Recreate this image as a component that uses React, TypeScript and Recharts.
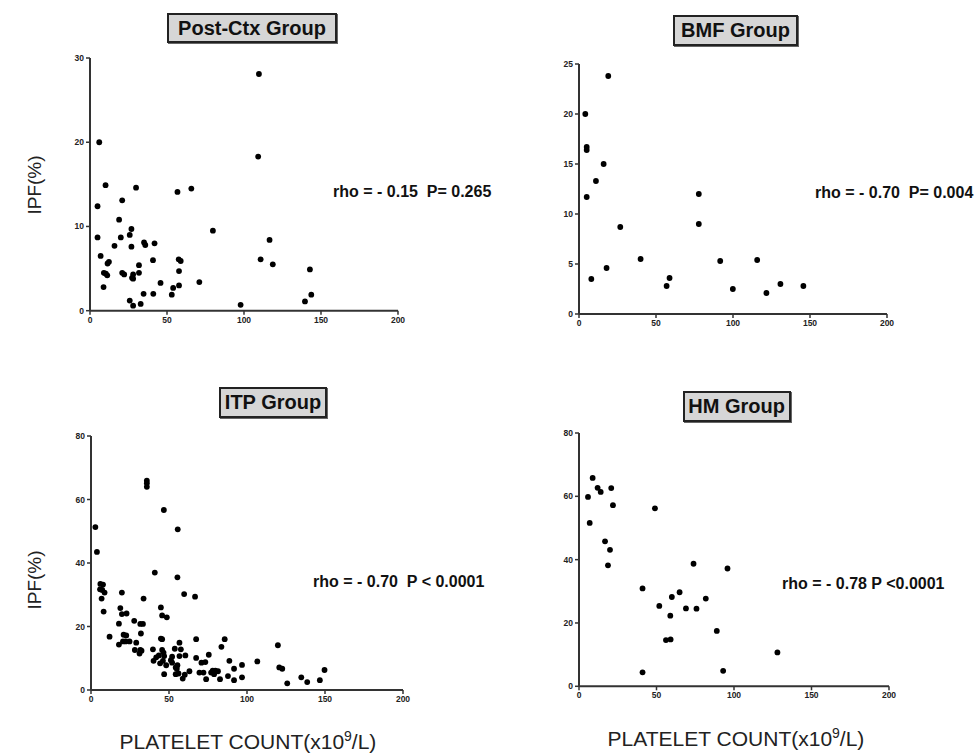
import React from 'react';
import { ScatterChart, Scatter, XAxis, YAxis } from 'recharts';

// x = platelet count (x10^9/L), y = IPF (%)
const postCtxPoints: [number, number][] = [
  [6.0, 20.0], [4.9, 12.4], [4.9, 8.7], [10.1, 14.9], [6.9, 6.5], [20.9, 13.1], [18.9, 10.8],
  [26.9, 9.7], [29.9, 14.6], [20.0, 8.7], [25.8, 9.0], [15.9, 7.7], [26.9, 7.6], [35.1, 8.1],
  [35.9, 7.8], [41.9, 8.0], [11.4, 5.6], [12.3, 5.8], [9.0, 4.5], [10.3, 4.4], [11.2, 4.2],
  [8.8, 2.8], [20.9, 4.5], [22.2, 4.3], [28.0, 4.3], [27.3, 3.9], [28.0, 3.8], [31.8, 5.4],
  [31.8, 4.5], [25.8, 1.2], [28.0, 0.6], [32.9, 0.8], [34.8, 2.0], [40.9, 6.0], [41.1, 2.0],
  [45.8, 3.3], [53.1, 1.9], [54.0, 2.7], [57.8, 3.0], [57.8, 4.7], [57.6, 6.1], [58.9, 5.9],
  [56.8, 14.1], [65.8, 14.5], [71.0, 3.4], [79.8, 9.5], [97.8, 0.7], [109.2, 18.3], [109.7, 28.1],
  [110.8, 6.1], [116.6, 8.4], [118.7, 5.5], [139.6, 1.1], [142.8, 4.9], [143.7, 1.9],
];

const bmfPoints: [number, number][] = [
  [19.0, 23.8], [4.1, 20.0], [5.0, 16.7], [5.0, 16.4], [16.0, 15.0], [11.0, 13.3], [5.0, 11.7],
  [77.8, 12.0], [77.8, 9.0], [26.8, 8.7], [40.0, 5.5], [17.9, 4.6], [8.0, 3.5], [56.9, 2.8],
  [58.8, 3.6], [91.7, 5.3], [115.7, 5.4], [99.9, 2.5], [121.7, 2.1], [130.8, 3.0], [145.7, 2.8],
];

const itpPoints: [number, number][] = [
  [2.8, 51.3], [3.8, 43.5], [6.0, 33.4], [7.7, 33.2], [5.8, 31.7], [7.2, 31.5], [8.7, 30.7],
  [6.8, 28.8], [8.1, 24.7], [11.9, 16.8], [17.9, 20.9], [19.8, 30.7], [18.8, 25.8], [19.8, 23.9],
  [22.8, 24.1], [17.9, 14.3], [20.9, 17.4], [22.6, 17.2], [20.5, 15.3], [22.2, 15.3], [24.7, 15.3],
  [27.7, 21.8], [28.1, 12.6], [29.0, 14.9], [31.6, 20.8], [33.3, 20.8], [32.0, 17.8], [31.6, 12.6],
  [32.4, 12.4], [31.1, 11.5], [33.7, 28.8], [35.8, 65.9], [35.8, 65.1], [35.8, 64.0], [39.7, 12.8],
  [40.1, 9.2], [41.8, 10.3], [40.9, 37.0], [43.5, 10.9], [44.8, 26.0], [44.8, 16.2], [45.6, 16.0],
  [45.6, 23.5], [48.6, 22.9], [46.7, 56.7], [45.6, 12.6], [46.5, 11.8], [44.3, 8.4], [46.1, 9.2],
  [46.9, 5.0], [48.2, 7.8], [46.9, 10.7], [51.2, 9.4], [52.0, 10.5], [53.7, 13.0], [52.0, 8.6],
  [54.3, 7.1], [54.3, 5.0], [55.4, 35.5], [55.6, 50.6], [55.4, 7.8], [55.0, 6.7], [56.1, 5.2],
  [56.7, 14.9], [56.7, 10.7], [57.6, 12.8], [59.7, 30.2], [58.8, 3.6], [60.5, 10.9], [60.1, 4.8],
  [63.1, 5.9], [66.7, 29.4], [67.4, 16.0], [67.4, 10.1], [70.8, 8.6], [69.5, 5.5], [72.1, 5.5],
  [73.3, 8.8], [73.8, 3.4], [75.5, 11.1], [77.0, 5.5], [78.0, 6.1], [78.9, 5.0], [79.7, 6.1],
  [81.4, 5.9], [82.7, 3.4], [83.6, 13.6], [85.7, 16.0], [87.8, 4.4], [88.7, 9.2], [91.7, 6.7],
  [91.7, 3.1], [96.8, 7.9], [96.8, 4.0], [106.6, 9.0], [119.8, 14.1], [120.7, 7.1], [122.6, 6.7],
  [125.8, 2.1], [134.8, 4.0], [138.6, 2.5], [146.7, 3.1], [149.7, 6.3],
];

const hmPoints: [number, number][] = [
  [5.8, 59.8], [6.9, 51.6], [8.8, 65.8], [12.0, 62.7], [14.0, 61.4], [20.8, 62.6], [21.9, 57.2],
  [16.8, 45.8], [20.0, 43.1], [18.7, 38.2], [49.0, 56.2], [41.0, 30.9], [41.0, 4.4], [51.8, 25.4],
  [59.9, 28.2], [64.9, 29.7], [58.9, 22.3], [56.1, 14.6], [59.1, 14.8], [69.0, 24.6], [73.9, 38.7],
  [75.8, 24.5], [81.8, 27.7], [95.8, 37.2], [88.9, 17.5], [93.0, 4.9], [128.0, 10.7],
];

const xTicks = [0, 50, 100, 150, 200];
const postCtxYTicks = [0, 10, 20, 30];
const bmfYTicks = [0, 5, 10, 15, 20, 25];
const itpYTicks = [0, 20, 40, 60, 80];
const hmYTicks = [0, 20, 40, 60, 80];

const groupTitles = ['Post-Ctx Group', 'BMF Group', 'ITP Group', 'HM Group'];
const rhoTexts = [
  'rho = - 0.15  P= 0.265',
  'rho = - 0.70  P= 0.004',
  'rho = - 0.70  P < 0.0001',
  'rho = - 0.78 P <0.0001',
];

const FONT = '"Liberation Sans", Arial, Helvetica, sans-serif';

const Dot = (props: any) => {
  const { cx, cy } = props;
  if (cx == null || cy == null) return null;
  return <circle cx={cx} cy={cy} r={2.9} fill="#000" />;
};

type PanelProps = {
  left: number;
  top: number;
  plotW: number;
  plotH: number;
  yMax: number;
  yTicks: number[];
  points: [number, number][];
};

const Panel = ({ left, top, plotW, plotH, yMax, yTicks, points }: PanelProps) => {
  const ML = 40;
  const MT = 10;
  const MR = 12;
  const XH = 22;
  const data = points.map(([x, y]) => ({ x, y }));
  const tickStyle = { fontSize: 8.5, fontWeight: 'bold', fill: '#222', fontFamily: FONT };
  return (
    <div style={{ position: 'absolute', left: left - ML, top: top - MT }}>
      <ScatterChart
        width={ML + plotW + MR}
        height={MT + plotH + XH}
        margin={{ top: MT, right: MR, bottom: 0, left: 0 }}
      >
        <XAxis
          type="number"
          dataKey="x"
          domain={[0, 200]}
          ticks={xTicks}
          interval={0}
          height={XH}
          tickSize={4}
          tickMargin={2}
          axisLine={{ stroke: '#333', strokeWidth: 2 }}
          tickLine={{ stroke: '#333', strokeWidth: 1.5 }}
          tick={tickStyle}
          allowDataOverflow
        />
        <YAxis
          type="number"
          dataKey="y"
          domain={[0, yMax]}
          ticks={yTicks}
          interval={0}
          width={ML}
          tickSize={4}
          tickMargin={2}
          axisLine={{ stroke: '#333', strokeWidth: 2 }}
          tickLine={{ stroke: '#333', strokeWidth: 1.5 }}
          tick={tickStyle}
          allowDataOverflow
        />
        <Scatter data={data} isAnimationActive={false} shape={Dot} />
      </ScatterChart>
    </div>
  );
};

const TitleBox = ({ cx, top, w, h, text }: { cx: number; top: number; w: number; h: number; text: string }) => (
  <div
    style={{
      position: 'absolute',
      left: cx - w / 2,
      top,
      width: w,
      height: h,
      boxSizing: 'border-box',
      border: '2px solid #222',
      background: '#d6d6d6',
      boxShadow: '1px 1px 0 #666',
      fontFamily: FONT,
      fontWeight: 'bold',
      fontSize: 20,
      color: '#111',
      display: 'flex',
      alignItems: 'center',
      justifyContent: 'center',
      whiteSpace: 'nowrap',
    }}
  >
    {text}
  </div>
);

const RhoText = ({ left, cy, text }: { left: number; cy: number; text: string }) => (
  <div
    style={{
      position: 'absolute',
      left,
      top: cy - 10,
      height: 20,
      lineHeight: '20px',
      fontFamily: FONT,
      fontWeight: 'bold',
      fontSize: 16,
      color: '#111',
      whiteSpace: 'pre',
    }}
  >
    {text}
  </div>
);

const YTitle = ({ cx, cy }: { cx: number; cy: number }) => (
  <div
    style={{
      position: 'absolute',
      left: cx - 40,
      top: cy - 12,
      width: 80,
      height: 24,
      lineHeight: '24px',
      textAlign: 'center',
      transform: 'rotate(-90deg)',
      fontFamily: FONT,
      fontSize: 19,
      color: '#222',
      whiteSpace: 'nowrap',
    }}
  >
    IPF(%)
  </div>
);

const XTitle = ({ cx, top }: { cx: number; top: number }) => (
  <div
    style={{
      position: 'absolute',
      left: cx - 170,
      top,
      width: 340,
      height: 24,
      lineHeight: '24px',
      textAlign: 'center',
      fontFamily: FONT,
      fontSize: 21,
      color: '#222',
      whiteSpace: 'nowrap',
    }}
  >
    PLATELET COUNT(x10
    <span style={{ fontSize: 14, position: 'relative', top: -8 }}>9</span>/L)
  </div>
);

export default function App() {
  return (
    <div
      style={{
        position: 'absolute',
        left: 0,
        top: 0,
        width: 975,
        height: 755,
        background: '#fff',
        overflow: 'hidden',
      }}
    >
      <Panel left={90} top={58.3} plotW={308} plotH={252.7} yMax={30} yTicks={postCtxYTicks} points={postCtxPoints} />
      <Panel left={579} top={64.3} plotW={308} plotH={250} yMax={25} yTicks={bmfYTicks} points={bmfPoints} />
      <Panel left={90.7} top={436} plotW={312} plotH={254} yMax={80} yTicks={itpYTicks} points={itpPoints} />
      <Panel left={579} top={432.7} plotW={310} plotH={253.3} yMax={80} yTicks={hmYTicks} points={hmPoints} />

      <TitleBox cx={252} top={13} w={170} h={30} text={groupTitles[0]} />
      <TitleBox cx={735.5} top={15} w={125} h={31} text={groupTitles[1]} />
      <TitleBox cx={273} top={387} w={108} h={31} text={groupTitles[2]} />
      <TitleBox cx={736.7} top={391} w={108} h={31} text={groupTitles[3]} />

      <RhoText left={333} cy={192} text={rhoTexts[0]} />
      <RhoText left={815} cy={193} text={rhoTexts[1]} />
      <RhoText left={313} cy={582} text={rhoTexts[2]} />
      <RhoText left={782} cy={584} text={rhoTexts[3]} />

      <YTitle cx={35} cy={185} />
      <YTitle cx={35} cy={580} />

      <XTitle cx={248} top={730} />
      <XTitle cx={736} top={727} />
    </div>
  );
}
